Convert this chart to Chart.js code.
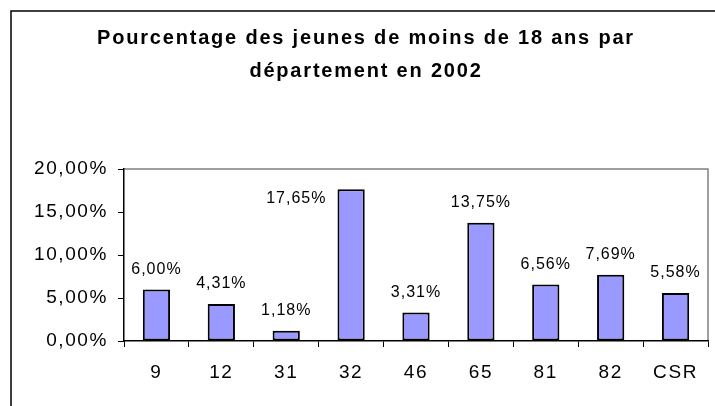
<!DOCTYPE html>
<html>
<head>
<meta charset="utf-8">
<script src="https://cdn.jsdelivr.net/npm/chart.js@4.4.0/dist/chart.umd.min.js"></script>
<style>
  html, body { margin: 0; padding: 0; background: #fff; }
  #wrap { width: 715px; height: 406px; }
</style>
</head>
<body>
<div id="wrap"><canvas id="chart"></canvas></div>
<script>
// Chart data
const titleLines = ['Pourcentage des jeunes de moins de 18 ans par', 'département en 2002'];
const departements = ['9', '12', '31', '32', '46', '65', '81', '82', 'CSR'];
const pourcentages = [6.00, 4.31, 1.18, 17.65, 3.31, 13.75, 6.56, 7.69, 5.58];
const yTicks = [0, 5, 10, 15, 20];

const FONT = '"Liberation Sans", Arial, sans-serif';

function frFormat(v) {
    return v.toFixed(2).replace('.', ',') + '%';
}

// Frame, title, plot border and value labels (Excel look)
const excelLook = {
    id: 'excelLook',
    beforeDraw(chart) {
        const ctx = chart.ctx;
        const a = chart.chartArea;
        ctx.save();
        // outer chart frame
        ctx.strokeStyle = '#000';
        ctx.lineWidth = 1.5;
        ctx.beginPath();
        ctx.moveTo(11, chart.height);
        ctx.lineTo(11, 11);
        ctx.lineTo(chart.width, 11);
        ctx.stroke();
        // title
        ctx.fillStyle = '#000';
        ctx.font = 'bold 20px ' + FONT;
        ctx.letterSpacing = '1.8px';
        ctx.textAlign = 'center';
        ctx.textBaseline = 'alphabetic';
        titleLines.forEach((t, i) => ctx.fillText(t, 366, 44 + i * 33));
        // plot area border (top / right)
        ctx.strokeStyle = '#808080';
        ctx.lineWidth = 1.5;
        ctx.beginPath();
        ctx.moveTo(a.left, a.top);
        ctx.lineTo(a.right, a.top);
        ctx.lineTo(a.right, a.bottom);
        ctx.stroke();
        ctx.restore();
        // wide tick labels like the original
        ctx.letterSpacing = '1.6px';
    },
    afterDatasetsDraw(chart) {
        const ctx = chart.ctx;
        const a = chart.chartArea;
        const meta = chart.getDatasetMeta(0);
        ctx.save();
        ctx.fillStyle = '#000';
        ctx.font = '16px ' + FONT;
        ctx.letterSpacing = '1px';
        ctx.textAlign = 'center';
        ctx.textBaseline = 'middle';
        meta.data.forEach((bar, i) => {
            const txt = frFormat(pourcentages[i]);
            let x = bar.x;
            let y = bar.y - 20;
            if (y - 8 < a.top) {
                // no room above: put it beside the bar
                const w = ctx.measureText(txt).width;
                x = bar.x - bar.width / 2 - w / 2 - 11;
                y = bar.y + 9;
            }
            ctx.fillText(txt, x, y);
        });
        ctx.restore();
    },
    afterDraw(chart) {
        chart.ctx.letterSpacing = '0px';
    }
};

const ctx = document.getElementById('chart').getContext('2d');
new Chart(ctx, {
    type: 'bar',
    data: {
        labels: departements,
        datasets: [{
            data: pourcentages,
            backgroundColor: '#9999FF',
            borderColor: '#000',
            borderWidth: 2,
            borderSkipped: false,
            barPercentage: 0.42,
            categoryPercentage: 1
        }]
    },
    options: {
        responsive: true,
        maintainAspectRatio: false,
        animation: false,
        layout: {
            padding: { top: 169, right: 7, left: 0, bottom: 0 }
        },
        plugins: {
            legend: { display: false },
            tooltip: { enabled: false },
            title: { display: false }
        },
        scales: {
            x: {
                grid: {
                    drawOnChartArea: false,
                    drawTicks: true,
                    tickLength: 6,
                    tickColor: '#000',
                    offset: true
                },
                border: { color: '#000', width: 1.5 },
                ticks: {
                    color: '#000',
                    font: { family: FONT, size: 19 },
                    padding: 14
                },
                afterFit(scale) { scale.height = 65; }
            },
            y: {
                min: 0,
                max: 20,
                afterBuildTicks(scale) {
                    scale.ticks = yTicks.map(v => ({ value: v }));
                },
                grid: {
                    drawOnChartArea: false,
                    tickLength: 6,
                    tickColor: '#000'
                },
                border: { color: '#000', width: 1.5 },
                ticks: {
                    color: '#000',
                    font: { family: FONT, size: 19 },
                    padding: 10,
                    callback: v => frFormat(v)
                },
                afterFit(scale) { scale.width = 124; }
            }
        }
    },
    plugins: [excelLook]
});
</script>
</body>
</html>
